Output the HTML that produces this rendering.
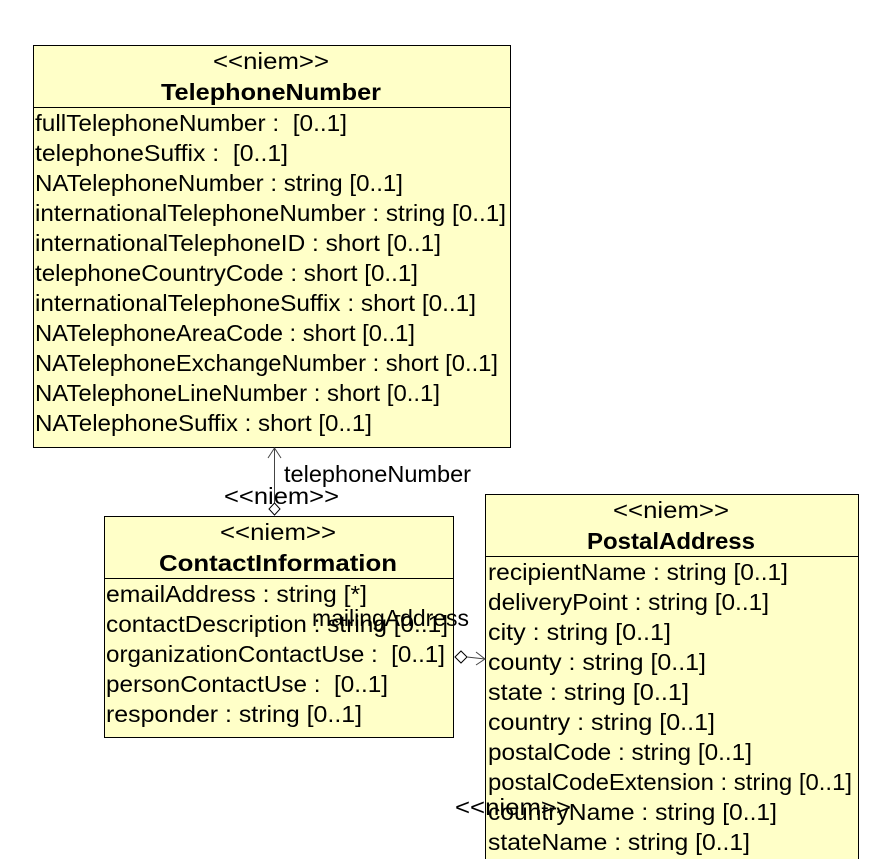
<!DOCTYPE html>
<html><head><style>
html,body{margin:0;padding:0;background:#fff;}
svg{display:block;}
text{font-family:"Liberation Sans",sans-serif;font-size:23px;fill:#000;}
.b{font-weight:bold;font-size:23px;}
</style></head><body>
<svg width="891" height="859" viewBox="0 0 891 859" xmlns="http://www.w3.org/2000/svg">
<!-- TelephoneNumber -->
<rect x="33.5" y="45.5" width="477" height="402" fill="#ffffc8" stroke="#000"/>
<line x1="33" y1="107.5" x2="511" y2="107.5" stroke="#000"/>
<text x="271" y="69" text-anchor="middle" textLength="116" lengthAdjust="spacingAndGlyphs">&lt;&lt;niem&gt;&gt;</text>
<text class="b" x="271" y="100" text-anchor="middle" textLength="220" lengthAdjust="spacingAndGlyphs">TelephoneNumber</text>
<text x="35" y="131" textLength="312" lengthAdjust="spacingAndGlyphs" xml:space="preserve">fullTelephoneNumber :  [0..1]</text>
<text x="35" y="161" textLength="253" lengthAdjust="spacingAndGlyphs" xml:space="preserve">telephoneSuffix :  [0..1]</text>
<text x="35" y="191" textLength="368" lengthAdjust="spacingAndGlyphs">NATelephoneNumber : string [0..1]</text>
<text x="35" y="221" textLength="471" lengthAdjust="spacingAndGlyphs">internationalTelephoneNumber : string [0..1]</text>
<text x="35" y="251" textLength="406" lengthAdjust="spacingAndGlyphs">internationalTelephoneID : short [0..1]</text>
<text x="35" y="281" textLength="383" lengthAdjust="spacingAndGlyphs">telephoneCountryCode : short [0..1]</text>
<text x="35" y="311" textLength="441" lengthAdjust="spacingAndGlyphs">internationalTelephoneSuffix : short [0..1]</text>
<text x="35" y="341" textLength="380" lengthAdjust="spacingAndGlyphs">NATelephoneAreaCode : short [0..1]</text>
<text x="35" y="371" textLength="463" lengthAdjust="spacingAndGlyphs">NATelephoneExchangeNumber : short [0..1]</text>
<text x="35" y="401" textLength="405" lengthAdjust="spacingAndGlyphs">NATelephoneLineNumber : short [0..1]</text>
<text x="35" y="431" textLength="337" lengthAdjust="spacingAndGlyphs">NATelephoneSuffix : short [0..1]</text>

<!-- ContactInformation -->
<rect x="104.5" y="516.5" width="349" height="221" fill="#ffffc8" stroke="#000"/>
<line x1="104" y1="578.5" x2="454" y2="578.5" stroke="#000"/>
<text x="278" y="540" text-anchor="middle" textLength="116" lengthAdjust="spacingAndGlyphs">&lt;&lt;niem&gt;&gt;</text>
<text class="b" x="278" y="571" text-anchor="middle" textLength="238" lengthAdjust="spacingAndGlyphs">ContactInformation</text>
<text x="106" y="602" textLength="261" lengthAdjust="spacingAndGlyphs">emailAddress : string [*]</text>
<text x="106" y="632" textLength="342" lengthAdjust="spacingAndGlyphs">contactDescription : string [0..1]</text>
<text x="106" y="662" textLength="339" lengthAdjust="spacingAndGlyphs" xml:space="preserve">organizationContactUse :  [0..1]</text>
<text x="106" y="692" textLength="282" lengthAdjust="spacingAndGlyphs" xml:space="preserve">personContactUse :  [0..1]</text>
<text x="106" y="722" textLength="256" lengthAdjust="spacingAndGlyphs">responder : string [0..1]</text>

<!-- PostalAddress -->
<rect x="485.5" y="494.5" width="373" height="380" fill="#ffffc8" stroke="#000"/>
<line x1="485" y1="556.5" x2="859" y2="556.5" stroke="#000"/>
<text x="671" y="518" text-anchor="middle" textLength="116" lengthAdjust="spacingAndGlyphs">&lt;&lt;niem&gt;&gt;</text>
<text class="b" x="671" y="549" text-anchor="middle" textLength="168" lengthAdjust="spacingAndGlyphs">PostalAddress</text>
<text x="488" y="580" textLength="300" lengthAdjust="spacingAndGlyphs">recipientName : string [0..1]</text>
<text x="488" y="610" textLength="281" lengthAdjust="spacingAndGlyphs">deliveryPoint : string [0..1]</text>
<text x="488" y="640" textLength="183" lengthAdjust="spacingAndGlyphs">city : string [0..1]</text>
<text x="488" y="670" textLength="218" lengthAdjust="spacingAndGlyphs">county : string [0..1]</text>
<text x="488" y="700" textLength="201" lengthAdjust="spacingAndGlyphs">state : string [0..1]</text>
<text x="488" y="730" textLength="227" lengthAdjust="spacingAndGlyphs">country : string [0..1]</text>
<text x="488" y="760" textLength="264" lengthAdjust="spacingAndGlyphs">postalCode : string [0..1]</text>
<text x="488" y="790" textLength="364" lengthAdjust="spacingAndGlyphs">postalCodeExtension : string [0..1]</text>
<text x="488" y="820" textLength="289" lengthAdjust="spacingAndGlyphs">countryName : string [0..1]</text>
<text x="488" y="850" textLength="262" lengthAdjust="spacingAndGlyphs">stateName : string [0..1]</text>

<!-- telephoneNumber connector -->
<line x1="274.5" y1="448" x2="274.5" y2="503" stroke="#444"/>
<polyline points="268,458 274.5,448 281,458" fill="none" stroke="#444"/>
<polygon points="274.5,503 280,509 274.5,515 269,509" fill="#fff" stroke="#000"/>
<text x="284" y="482" textLength="187" lengthAdjust="spacingAndGlyphs">telephoneNumber</text>
<text x="224" y="504" textLength="115" lengthAdjust="spacingAndGlyphs">&lt;&lt;niem&gt;&gt;</text>

<!-- mailingAddress connector -->
<polygon points="455,657 461,651 467,657 461,663" fill="#fff" stroke="#000"/>
<line x1="467" y1="657" x2="485" y2="659" stroke="#444"/>
<polyline points="476,652 485,659 476,665" fill="none" stroke="#444"/>
<text x="312" y="626" textLength="157" lengthAdjust="spacingAndGlyphs">mailingAddress</text>
<text x="455" y="815" textLength="116" lengthAdjust="spacingAndGlyphs">&lt;&lt;niem&gt;&gt;</text>
</svg>
</body></html>
